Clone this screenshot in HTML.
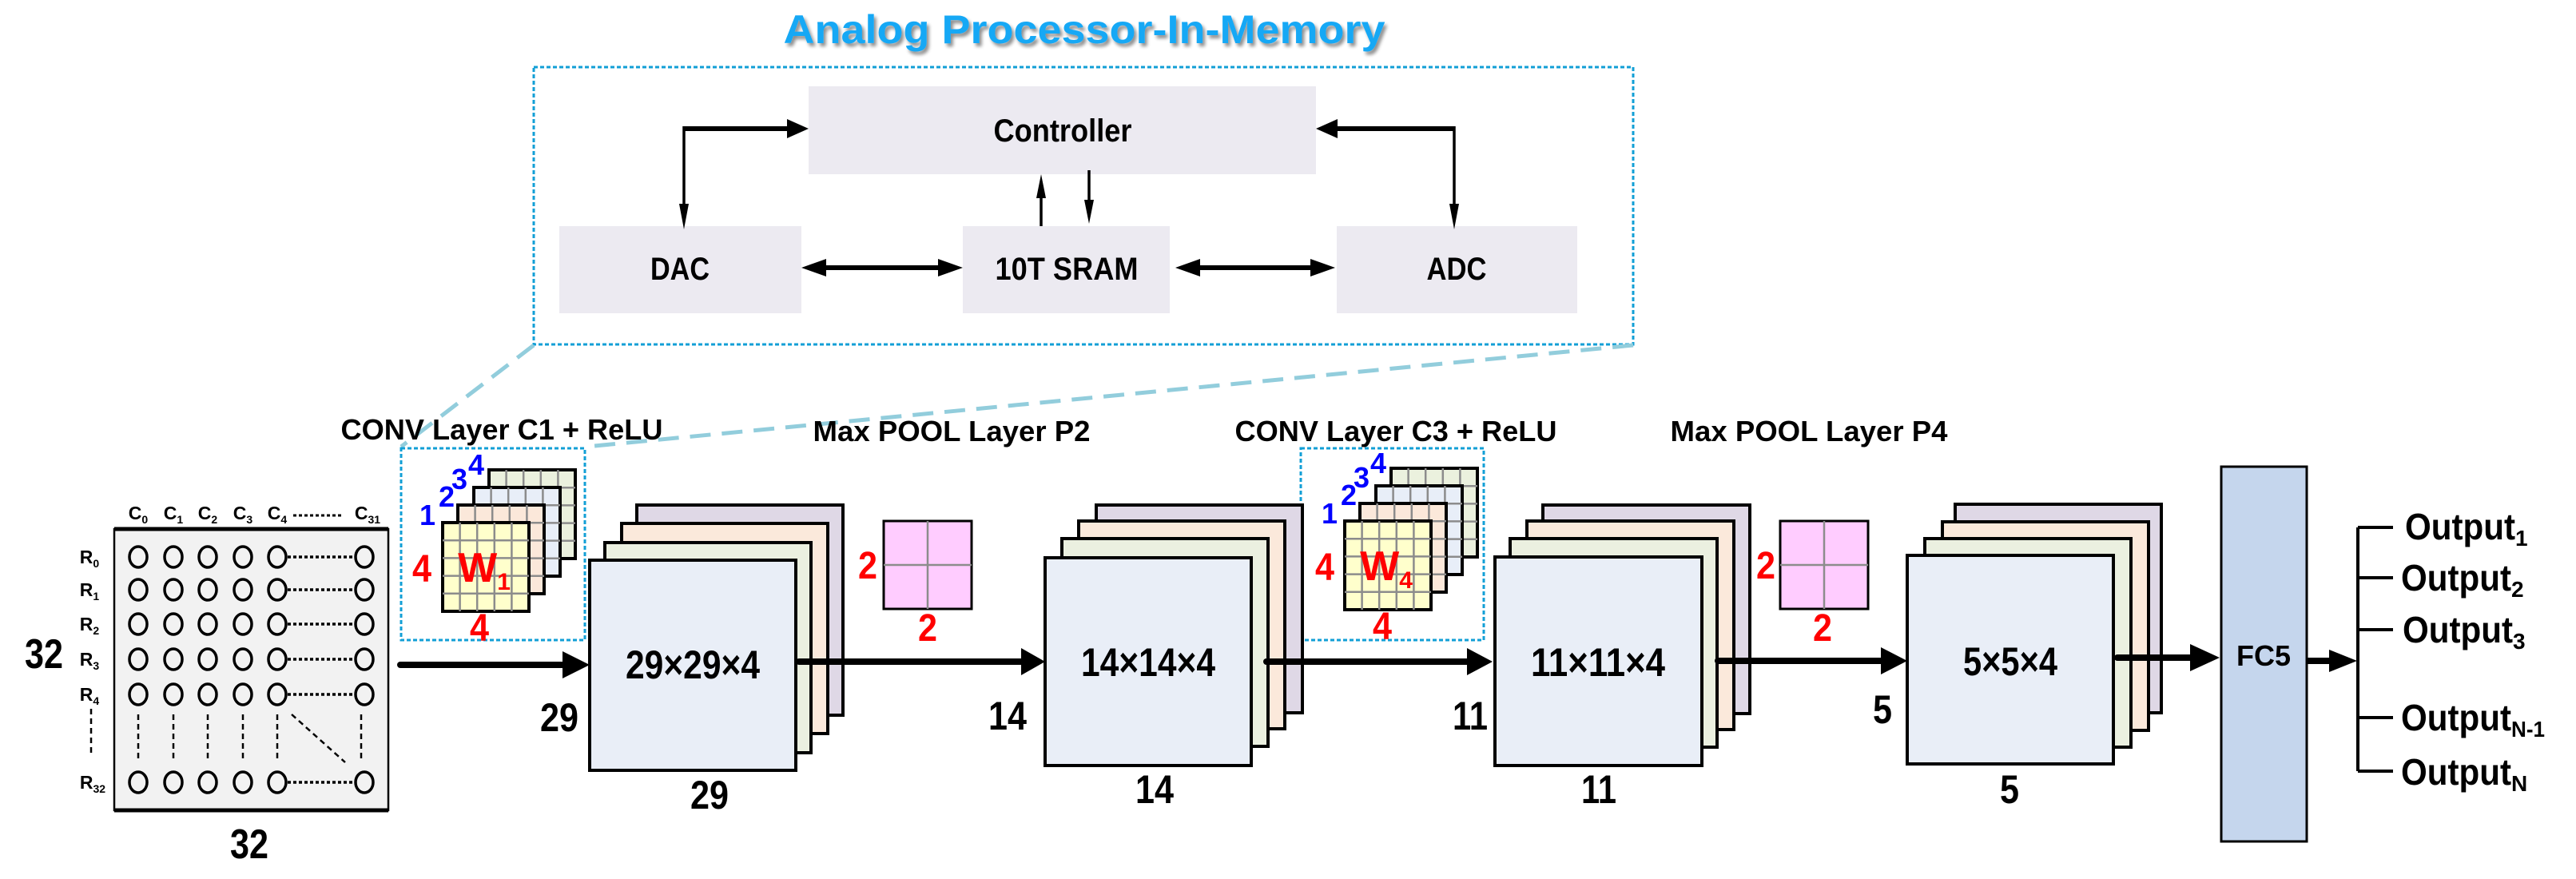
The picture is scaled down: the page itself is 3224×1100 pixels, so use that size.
<!DOCTYPE html>
<html><head><meta charset="utf-8"><style>
html,body{margin:0;padding:0;background:#fff;}
svg{display:block;}
text{font-family:"Liberation Sans",Arial,sans-serif;font-weight:bold;}
</style></head><body>
<svg width="3224" height="1100" viewBox="0 0 3224 1100" xmlns="http://www.w3.org/2000/svg">
<defs>
<filter id="sh" x="-5%" y="-30%" width="110%" height="160%">
<feGaussianBlur in="SourceAlpha" stdDeviation="2"/><feOffset dx="3" dy="4"/>
<feComponentTransfer><feFuncA type="linear" slope="0.45"/></feComponentTransfer>
<feMerge><feMergeNode/><feMergeNode in="SourceGraphic"/></feMerge></filter>
<g id="kgrid">
<path d="M21.6 0V111M43.2 0V111M64.8 0V111M86.4 0V111M0 22.2H108M0 44.4H108M0 66.6H108M0 88.8H108" stroke="#8c8c8c" stroke-width="2.5" fill="none"/>
</g>
<g id="kstack">
<rect x="58" y="-66" width="108" height="111" fill="#ebf1de" stroke="#000" stroke-width="4"/><use href="#kgrid" x="58" y="-66"/>
<rect x="39" y="-44" width="108" height="111" fill="#e8eef8" stroke="#000" stroke-width="4"/><use href="#kgrid" x="39" y="-44"/>
<rect x="19" y="-22" width="108" height="111" fill="#fbe8da" stroke="#000" stroke-width="4"/><use href="#kgrid" x="19" y="-22"/>
<rect x="0" y="0" width="108" height="111" fill="#ffffcc" stroke="#000" stroke-width="4"/><use href="#kgrid" x="0" y="0"/>
</g>
<g id="pool">
<rect x="0" y="0" width="110" height="110" fill="#ffccff" stroke="#000" stroke-width="3"/>
<path d="M55 0V110M0 55H110" stroke="#8c8c8c" stroke-width="2.5"/>
</g>
</defs>

<!-- Title -->
<text x="1357" y="54" font-size="50" fill="#17a8f5" text-anchor="middle" textLength="753" lengthAdjust="spacingAndGlyphs" filter="url(#sh)">Analog Processor-In-Memory</text>

<!-- APIM box -->
<rect x="668" y="84" width="1376" height="347" fill="none" stroke="#129fd6" stroke-width="3" stroke-dasharray="5 3"/>
<rect x="1012" y="108" width="635" height="110" fill="#eceaf1"/>
<rect x="700" y="283" width="303" height="109" fill="#eceaf1"/>
<rect x="1205" y="283" width="259" height="109" fill="#eceaf1"/>
<rect x="1673" y="283" width="301" height="109" fill="#eceaf1"/>
<text x="1330" y="177" font-size="40" text-anchor="middle" textLength="173" lengthAdjust="spacingAndGlyphs">Controller</text>
<text x="851" y="350" font-size="40" text-anchor="middle" textLength="74" lengthAdjust="spacingAndGlyphs">DAC</text>
<text x="1335" y="350" font-size="40" text-anchor="middle" textLength="179" lengthAdjust="spacingAndGlyphs">10T SRAM</text>
<text x="1823" y="350" font-size="40" text-anchor="middle" textLength="75" lengthAdjust="spacingAndGlyphs">ADC</text>
<!-- arrows in box -->
<g fill="#000" stroke="#000">
<path d="M856 161H985" stroke-width="6" fill="none"/>
<path d="M856 158V262" stroke-width="3.5" fill="none"/>
<polygon points="985,149 1012,161 985,173" stroke="none"/>
<polygon points="850,255 862,255 856,287" stroke="none"/>
<path d="M1820 161H1674" stroke-width="6" fill="none"/>
<path d="M1820 158V262" stroke-width="3.5" fill="none"/>
<polygon points="1674,149 1647,161 1674,173" stroke="none"/>
<polygon points="1814,255 1826,255 1820,287" stroke="none"/>
<path d="M1303 283V245" stroke-width="3.5" fill="none"/>
<polygon points="1297,248 1309,248 1303,218" stroke="none"/>
<path d="M1363 213V252" stroke-width="3.5" fill="none"/>
<polygon points="1357,250 1369,250 1363,280" stroke="none"/>
<path d="M1030 335H1178" stroke-width="6" fill="none"/>
<polygon points="1034,324 1003,335 1034,346" stroke="none"/>
<polygon points="1174,324 1205,335 1174,346" stroke="none"/>
<path d="M1498 335H1642" stroke-width="6" fill="none"/>
<polygon points="1502,324 1471,335 1502,346" stroke="none"/>
<polygon points="1640,324 1671,335 1640,346" stroke="none"/>
</g>

<!-- dashed connectors -->
<path d="M668 432L502 559" stroke="#92cddc" stroke-width="5" stroke-dasharray="26 14" fill="none"/>
<path d="M2044 432L734 559" stroke="#92cddc" stroke-width="5" stroke-dasharray="26 14" fill="none"/>

<!-- layer captions -->
<text x="628" y="550" font-size="36" text-anchor="middle" textLength="403" lengthAdjust="spacingAndGlyphs">CONV Layer C1 + ReLU</text>
<text x="1191" y="552" font-size="36" text-anchor="middle" textLength="347" lengthAdjust="spacingAndGlyphs">Max POOL Layer P2</text>
<text x="1747" y="552" font-size="36" text-anchor="middle" textLength="403" lengthAdjust="spacingAndGlyphs">CONV Layer C3 + ReLU</text>
<text x="2264" y="552" font-size="36" text-anchor="middle" textLength="347" lengthAdjust="spacingAndGlyphs">Max POOL Layer P4</text>

<!-- input matrix -->
<rect x="143" y="662" width="343" height="352" fill="#f2f2f2" stroke="#000" stroke-width="2.5"/>
<path d="M143 662H486M143 1014H486" stroke="#000" stroke-width="5"/>
<g fill="none" stroke="#000" stroke-width="3.5">
<g id="crow">
<ellipse cx="173" cy="697" rx="11" ry="13"/><ellipse cx="217" cy="697" rx="11" ry="13"/><ellipse cx="260" cy="697" rx="11" ry="13"/><ellipse cx="304" cy="697" rx="11" ry="13"/><ellipse cx="347" cy="697" rx="11" ry="13"/><ellipse cx="456" cy="697" rx="11" ry="13"/>
<path d="M360 697H444" stroke-dasharray="4 3"/>
</g>
<use href="#crow" y="41"/><use href="#crow" y="84"/><use href="#crow" y="128"/><use href="#crow" y="172"/><use href="#crow" y="282"/>
<path d="M173 894V950M217 894V950M260 894V950M304 894V950M347 894V950M452 894V950M114 887V943M365 894L432 954" stroke-width="2.5" stroke-dasharray="7 5"/>
</g>
<g font-size="23" text-anchor="middle">
<text x="173" y="650">C<tspan font-size="14" dy="5">0</tspan></text>
<text x="217" y="650">C<tspan font-size="14" dy="5">1</tspan></text>
<text x="260" y="650">C<tspan font-size="14" dy="5">2</tspan></text>
<text x="304" y="650">C<tspan font-size="14" dy="5">3</tspan></text>
<text x="347" y="650">C<tspan font-size="14" dy="5">4</tspan></text>
<text x="460" y="650">C<tspan font-size="14" dy="5">31</tspan></text>
</g>
<path d="M367 645H430" stroke="#000" stroke-width="3" stroke-dasharray="4 3"/>
<g font-size="23" text-anchor="middle">
<text x="112" y="705">R<tspan font-size="14" dy="5">0</tspan></text>
<text x="112" y="746">R<tspan font-size="14" dy="5">1</tspan></text>
<text x="112" y="789">R<tspan font-size="14" dy="5">2</tspan></text>
<text x="112" y="833">R<tspan font-size="14" dy="5">3</tspan></text>
<text x="112" y="877">R<tspan font-size="14" dy="5">4</tspan></text>
<text x="116" y="987">R<tspan font-size="14" dy="5">32</tspan></text>
</g>
<text x="55" y="836" font-size="52" text-anchor="middle" textLength="48" lengthAdjust="spacingAndGlyphs">32</text>
<text x="312" y="1074" font-size="52" text-anchor="middle" textLength="48" lengthAdjust="spacingAndGlyphs">32</text>

<!-- C1 kernel box -->
<rect x="502" y="561" width="230" height="240" fill="none" stroke="#129fd6" stroke-width="3" stroke-dasharray="5 3"/>
<use href="#kstack" x="554" y="654"/>
<text x="606" y="728" font-size="52" fill="#ff0000" text-anchor="middle">W<tspan font-size="30" dy="10">1</tspan></text>
<text x="528" y="728" font-size="48" fill="#ff0000" text-anchor="middle" textLength="24" lengthAdjust="spacingAndGlyphs">4</text>
<text x="600" y="802" font-size="48" fill="#ff0000" text-anchor="middle" textLength="24" lengthAdjust="spacingAndGlyphs">4</text>
<g font-size="36" fill="#0000ff" text-anchor="middle">
<text x="535" y="657">1</text><text x="559" y="634">2</text><text x="575" y="612">3</text><text x="596" y="594">4</text>
</g>

<!-- C3 kernel box -->
<rect x="1628" y="561" width="229" height="240" fill="none" stroke="#129fd6" stroke-width="3" stroke-dasharray="5 3"/>
<use href="#kstack" x="1683" y="652"/>
<text x="1735" y="726" font-size="52" fill="#ff0000" text-anchor="middle">W<tspan font-size="30" dy="10">4</tspan></text>
<text x="1658" y="726" font-size="48" fill="#ff0000" text-anchor="middle" textLength="24" lengthAdjust="spacingAndGlyphs">4</text>
<text x="1730" y="800" font-size="48" fill="#ff0000" text-anchor="middle" textLength="24" lengthAdjust="spacingAndGlyphs">4</text>
<g font-size="36" fill="#0000ff" text-anchor="middle">
<text x="1664" y="655">1</text><text x="1688" y="632">2</text><text x="1704" y="610">3</text><text x="1725" y="592">4</text>
</g>

<!-- pool windows -->
<use href="#pool" x="1106" y="652"/>
<text x="1086" y="724" font-size="48" fill="#ff0000" text-anchor="middle" textLength="24" lengthAdjust="spacingAndGlyphs">2</text>
<text x="1161" y="802" font-size="48" fill="#ff0000" text-anchor="middle" textLength="24" lengthAdjust="spacingAndGlyphs">2</text>
<use href="#pool" x="2228" y="652"/>
<text x="2210" y="724" font-size="48" fill="#ff0000" text-anchor="middle" textLength="24" lengthAdjust="spacingAndGlyphs">2</text>
<text x="2281" y="802" font-size="48" fill="#ff0000" text-anchor="middle" textLength="24" lengthAdjust="spacingAndGlyphs">2</text>

<!-- feature map stacks -->
<g stroke="#000" stroke-width="4">
<rect x="797" y="632" width="258" height="263" fill="#dfd8e6"/>
<rect x="778" y="655" width="258" height="263" fill="#fbe9db"/>
<rect x="757" y="679" width="258" height="263" fill="#ebf0e0"/>
<rect x="738" y="701" width="258" height="263" fill="#e9eef7"/>

<rect x="1372" y="632" width="258" height="260" fill="#dfd8e6"/>
<rect x="1350" y="652" width="258" height="260" fill="#fbe9db"/>
<rect x="1329" y="674" width="258" height="260" fill="#ebf0e0"/>
<rect x="1308" y="698" width="258" height="260" fill="#e9eef7"/>

<rect x="1931" y="632" width="259" height="261" fill="#dfd8e6"/>
<rect x="1911" y="652" width="259" height="261" fill="#fbe9db"/>
<rect x="1890" y="674" width="259" height="261" fill="#ebf0e0"/>
<rect x="1871" y="697" width="259" height="261" fill="#e9eef7"/>

<rect x="2447" y="631" width="258" height="261" fill="#dfd8e6"/>
<rect x="2431" y="653" width="258" height="261" fill="#fbe9db"/>
<rect x="2409" y="674" width="258" height="261" fill="#ebf0e0"/>
<rect x="2387" y="695" width="258" height="261" fill="#e9eef7"/>
</g>
<text x="867" y="849" font-size="50" text-anchor="middle" textLength="168" lengthAdjust="spacingAndGlyphs">29×29×4</text>
<text x="1437" y="846" font-size="50" text-anchor="middle" textLength="168" lengthAdjust="spacingAndGlyphs">14×14×4</text>
<text x="2000" y="846" font-size="50" text-anchor="middle" textLength="168" lengthAdjust="spacingAndGlyphs">11×11×4</text>
<text x="2516" y="845" font-size="50" text-anchor="middle" textLength="118" lengthAdjust="spacingAndGlyphs">5×5×4</text>
<g font-size="50">
<text x="724" y="915" text-anchor="end" textLength="48" lengthAdjust="spacingAndGlyphs">29</text>
<text x="888" y="1012" text-anchor="middle" textLength="48" lengthAdjust="spacingAndGlyphs">29</text>
<text x="1285" y="913" text-anchor="end" textLength="48" lengthAdjust="spacingAndGlyphs">14</text>
<text x="1445" y="1005" text-anchor="middle" textLength="48" lengthAdjust="spacingAndGlyphs">14</text>
<text x="1862" y="913" text-anchor="end" textLength="44" lengthAdjust="spacingAndGlyphs">11</text>
<text x="2001" y="1005" text-anchor="middle" textLength="44" lengthAdjust="spacingAndGlyphs">11</text>
<text x="2368" y="905" text-anchor="end" textLength="24" lengthAdjust="spacingAndGlyphs">5</text>
<text x="2515" y="1005" text-anchor="middle" textLength="24" lengthAdjust="spacingAndGlyphs">5</text>
</g>

<!-- main arrows -->
<g fill="#000" stroke="#000">
<path d="M501 832H710" stroke-width="8" stroke-linecap="round"/>
<polygon points="704,815 738,832 704,849" stroke="none"/>
<path d="M1000 828H1282" stroke-width="8" stroke-linecap="round"/>
<polygon points="1278,811 1308,828 1278,845" stroke="none"/>
<path d="M1585 828H1840" stroke-width="8" stroke-linecap="round"/>
<polygon points="1836,811 1868,828 1836,845" stroke="none"/>
<path d="M2150 827H2360" stroke-width="8" stroke-linecap="round"/>
<polygon points="2354,810 2387,827 2354,844" stroke="none"/>
<path d="M2650 823H2745" stroke-width="8" stroke-linecap="round"/>
<polygon points="2741,806 2778,823 2741,840" stroke="none"/>
<path d="M2888 827H2920" stroke-width="8" stroke-linecap="round"/>
<polygon points="2915,813 2950,827 2915,841" stroke="none"/>
</g>

<!-- FC5 -->
<rect x="2780" y="584" width="107" height="469" fill="#c5d6ed" stroke="#000" stroke-width="3"/>
<text x="2833" y="833" font-size="36" text-anchor="middle" textLength="68" lengthAdjust="spacingAndGlyphs">FC5</text>

<!-- outputs -->
<path d="M2951 660V965M2951 660H2995M2951 723H2995M2951 788H2995M2951 898H2995M2951 965H2995" stroke="#000" stroke-width="4" fill="none"/>
<g font-size="46">
<text x="3010" y="675"><tspan textLength="138" lengthAdjust="spacingAndGlyphs">Output</tspan><tspan font-size="28" dy="8">1</tspan></text>
<text x="3005" y="739"><tspan textLength="138" lengthAdjust="spacingAndGlyphs">Output</tspan><tspan font-size="28" dy="8">2</tspan></text>
<text x="3007" y="804"><tspan textLength="138" lengthAdjust="spacingAndGlyphs">Output</tspan><tspan font-size="28" dy="8">3</tspan></text>
<text x="3005" y="914"><tspan textLength="138" lengthAdjust="spacingAndGlyphs">Output</tspan><tspan font-size="28" dy="8" textLength="42" lengthAdjust="spacingAndGlyphs">N-1</tspan></text>
<text x="3005" y="982"><tspan textLength="138" lengthAdjust="spacingAndGlyphs">Output</tspan><tspan font-size="28" dy="8">N</tspan></text>
</g>
</svg>
</body></html>
